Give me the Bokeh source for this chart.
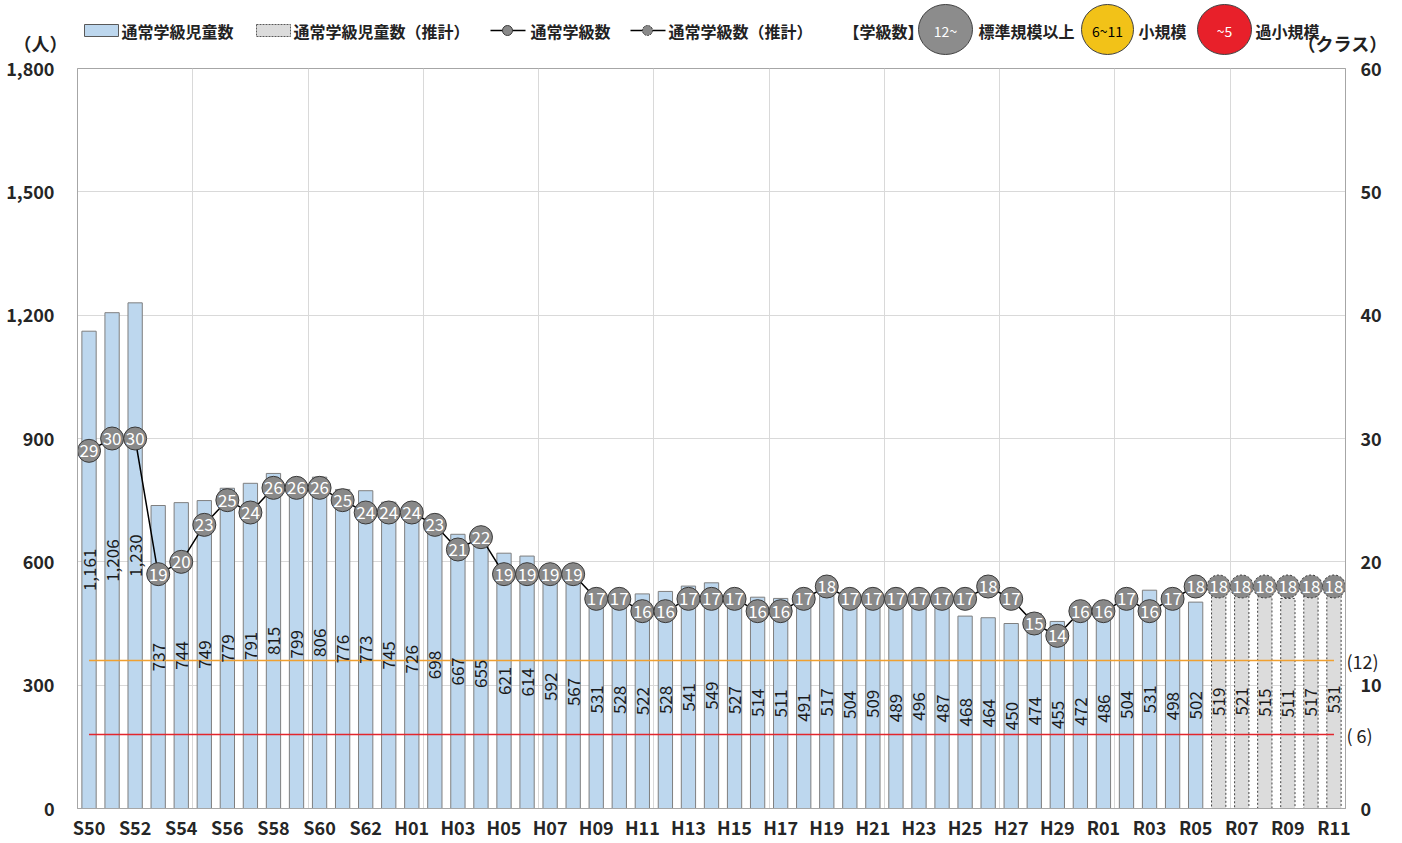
import math
from bokeh.plotting import figure
from bokeh.models import Range1d, LinearAxis, FixedTicker, NumeralTickFormatter, ColumnDataSource
from bokeh.layouts import column
from bokeh.core.properties import value
from bokeh.embed import file_html
from bokeh.resources import INLINE

# ---------------- data ----------------
years = ["S50", "S51", "S52", "S53", "S54", "S55", "S56", "S57", "S58", "S59",
         "S60", "S61", "S62", "S63",
         "H01", "H02", "H03", "H04", "H05", "H06", "H07", "H08", "H09", "H10",
         "H11", "H12", "H13", "H14", "H15", "H16", "H17", "H18", "H19", "H20",
         "H21", "H22", "H23", "H24", "H25", "H26", "H27", "H28", "H29", "H30",
         "R01", "R02", "R03", "R04", "R05", "R06", "R07", "R08", "R09", "R10", "R11"]
students = [1161, 1206, 1230, 737, 744, 749, 779, 791, 815, 799, 806, 776, 773, 745,
            726, 698, 667, 655, 621, 614, 592, 567, 531, 528, 522, 528, 541, 549, 527, 514,
            511, 491, 517, 504, 509, 489, 496, 487, 468, 464, 450, 474, 455, 472,
            486, 504, 531, 498, 502, 519, 521, 515, 511, 517, 531]
classes = [29, 30, 30, 19, 20, 23, 25, 24, 26, 26, 26, 25, 24, 24,
           24, 23, 21, 22, 19, 19, 19, 19, 17, 17, 16, 16, 17, 17, 17, 16,
           16, 17, 18, 17, 17, 17, 17, 17, 17, 18, 17, 15, 14, 16,
           16, 17, 16, 17, 18, 18, 18, 18, 18, 18, 18]
n_actual = 49  # S50..R05 actual, R06..R11 projected
thresholds = [12, 6]
threshold_labels = ["(12)", "( 6)"]
threshold_colors = ["#F0A030", "#E3262D"]
left_ticks = [0, 300, 600, 900, 1200, 1500, 1800]
right_ticks = [0, 10, 20, 30, 40, 50, 60]
left_title = "（人）"
right_title = "（クラス）"

FONT = value("Noto Sans CJK JP")
FONT_NAME = "Noto Sans CJK JP"
BAR_FILL = "#BDD7EE"
PROJ_FILL = "#DCDCDC"
MARK_FILL = "#898989"
MARK_LINE = "#3A3A3A"

W = 1400
HEAD_H = 56
MAIN_H = 786
B_LEFT, B_RIGHT = 77, 55

idx = list(range(len(years)))
act = ColumnDataSource(dict(x=idx[:n_actual], top=students[:n_actual], mid=[v / 2 for v in students[:n_actual]],
                            lab=[f"{v:,}" for v in students[:n_actual]],
                            c=classes[:n_actual], cl=[str(c) for c in classes[:n_actual]]))
prj = ColumnDataSource(dict(x=idx[n_actual:], top=students[n_actual:], mid=[v / 2 for v in students[n_actual:]],
                            lab=[f"{v:,}" for v in students[n_actual:]],
                            c=classes[n_actual:], cl=[str(c) for c in classes[n_actual:]]))

# ---------------- header (legend + axis titles) ----------------
# frame of header is aligned with the main frame: x data == page pixels
h = figure(width=W, height=HEAD_H, x_range=Range1d(B_LEFT, W - B_RIGHT), y_range=Range1d(HEAD_H, 0),
           output_backend="svg", toolbar_location=None, min_border=0,
           min_border_left=B_LEFT, min_border_right=B_RIGHT,
           x_axis_location=None, y_axis_location=None)
h.grid.visible = False
h.outline_line_color = None

TY = 42
for side, txt, stand in (("left", left_title, 10), ("right", right_title, -48)):
    ax = LinearAxis(ticker=FixedTicker(ticks=[TY]), major_label_overrides={TY: txt})
    ax.axis_line_color = None
    ax.major_tick_line_color = None
    ax.minor_tick_line_color = None
    ax.major_tick_out = 0
    ax.major_tick_in = 0
    ax.major_label_standoff = stand
    ax.major_label_text_font = FONT_NAME
    ax.major_label_text_font_style = "bold"
    ax.major_label_text_font_size = "18px"
    ax.major_label_text_color = "#222222"
    h.add_layout(ax, side)

ly = 30
h.rect(x=[101], y=[ly], width=34, height=12, fill_color=BAR_FILL, line_color="#595959", line_width=1)
h.rect(x=[273], y=[ly], width=34, height=12, fill_color=PROJ_FILL, line_color="#595959", line_width=1,
       line_dash="2 1")
h.line(x=[490, 525], y=[ly, ly], line_color="black", line_width=1.5)
h.scatter(x=[507], y=[ly], size=10, fill_color=MARK_FILL, line_color=MARK_LINE)
h.line(x=[630, 665], y=[ly, ly], line_color="black", line_width=1.5)
h.scatter(x=[647], y=[ly], size=10, fill_color=MARK_FILL, line_color=MARK_LINE, line_dash="2 1")

leg_x = [121, 293, 530, 668, 843, 978, 1138, 1255]
leg_t = ["通常学級児童数", "通常学級児童数（推計）", "通常学級数", "通常学級数（推計）", "【学級数】",
         "標準規模以上", "小規模", "過小規模"]
h.text(x=leg_x, y=[ly] * len(leg_x), text=leg_t, text_font=FONT, text_font_style="bold",
       text_font_size="16px", text_baseline="middle", text_align="left", text_color="#222222")

h.ellipse(x=[945, 1107, 1224], y=[29, 29, 29], width=[54, 52, 54], height=[50, 50, 50],
          fill_color=["#8C8C8C", "#F2C218", "#E8202A"], line_color="#404040", line_width=1)
h.text(x=[945, 1107, 1224], y=[30, 30, 30], text=["12~", "6~11", "~5"],
       text_color=["white", "black", "white"], text_font=FONT,
       text_font_size="14px", text_align="center", text_baseline="middle")

# ---------------- main chart ----------------
p = figure(width=W, height=MAIN_H, x_range=Range1d(-0.5, len(years) - 0.5), y_range=Range1d(0, 1800),
           output_backend="svg", toolbar_location=None,
           min_border_left=B_LEFT, min_border_right=B_RIGHT, min_border_top=12, min_border_bottom=34)
p.extra_y_ranges = {"right": Range1d(0, 60)}
right_axis = LinearAxis(y_range_name="right", ticker=FixedTicker(ticks=right_ticks))
p.add_layout(right_axis, "right")
thr_axis = LinearAxis(y_range_name="right", ticker=FixedTicker(ticks=thresholds),
                      major_label_overrides={t: lab for t, lab in zip(thresholds, threshold_labels)})
p.add_layout(thr_axis, "right")

p.outline_line_color = "#A6A6A6"

p.xaxis.ticker = FixedTicker(ticks=list(range(0, len(years), 2)))
p.xaxis.major_label_overrides = {i: years[i] for i in range(0, len(years), 2)}
p.yaxis[0].ticker = FixedTicker(ticks=left_ticks)
p.yaxis[0].formatter = NumeralTickFormatter(format="0,0")

for ax in p.axis:
    ax.axis_line_color = "#A6A6A6"
    ax.major_tick_line_color = None
    ax.minor_tick_line_color = None
    ax.major_tick_out = 0
    ax.major_tick_in = 0
    ax.major_label_text_font = FONT_NAME
    ax.major_label_text_font_style = "bold"
    ax.major_label_text_font_size = "18px"
    ax.major_label_text_color = "#262626"
p.xaxis.major_label_standoff = 5
p.yaxis[0].major_label_standoff = 23
right_axis.major_label_standoff = 15
thr_axis.axis_line_color = None
thr_axis.major_label_text_font_style = "normal"
thr_axis.major_label_text_font_size = "18px"
thr_axis.major_label_text_color = "#222222"
thr_axis.major_label_standoff = -38

p.xgrid.ticker = FixedTicker(ticks=[4.5 + 5 * k for k in range(10)])
p.ygrid.ticker = FixedTicker(ticks=left_ticks)
p.grid.grid_line_color = "#D9D9D9"
p.grid.grid_line_width = 1

# bars
p.vbar(x="x", top="top", width=0.62, source=act, fill_color=BAR_FILL, line_color="#7F7F7F", line_width=1)
p.vbar(x="x", top="top", width=0.62, source=prj, fill_color=PROJ_FILL, line_color="#404040", line_width=1,
       line_dash="2 2")

# threshold lines
for t, c in zip(thresholds, threshold_colors):
    p.line(x=[idx[0], idx[-1]], y=[t, t], y_range_name="right", line_color=c, line_width=1.5)

# bar labels
for src in (act, prj):
    p.text(x="x", y="mid", text="lab", source=src, angle=math.pi / 2, text_align="center",
           text_baseline="middle", text_font=FONT, text_font_size="17px", text_color="#1a1a1a")

# class line
p.line(x=idx[:n_actual], y=classes[:n_actual], y_range_name="right", line_color="black", line_width=1.5)
p.line(x=idx[n_actual - 1:], y=classes[n_actual - 1:], y_range_name="right", line_color="black",
       line_width=1.5, line_dash="3 2")
p.scatter(x="x", y="c", source=act, y_range_name="right", size=23, fill_color=MARK_FILL,
          line_color=MARK_LINE, line_width=1)
p.scatter(x="x", y="c", source=prj, y_range_name="right", size=23, fill_color=MARK_FILL,
          line_color=MARK_LINE, line_width=1, line_dash="2 2")
for src in (act, prj):
    p.text(x="x", y="c", text="cl", source=src, y_range_name="right", text_align="center",
           text_baseline="middle", text_font=FONT, text_font_size="17px", text_color="white")

layout = column(h, p, spacing=0)
open("out.html", "w").write(file_html(layout, INLINE))
